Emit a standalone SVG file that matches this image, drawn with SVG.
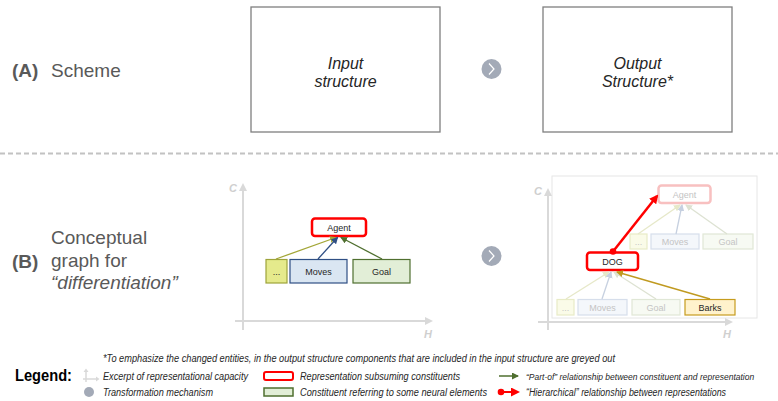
<svg xmlns="http://www.w3.org/2000/svg" width="778" height="401" viewBox="0 0 778 401">
<style>
.hd{font-family:"Liberation Sans",Arial,sans-serif;font-size:19px;fill:#595959}
.hb{font-weight:bold}
.bx{fill:#fff;stroke:#7f7f7f;stroke-width:1.3}
.bt{font-family:"Liberation Sans",Arial,sans-serif;font-size:16px;font-style:italic;fill:#262626;text-anchor:middle}
.nl{font-family:"Liberation Sans",Arial,sans-serif;font-size:9px;fill:#262626;text-anchor:middle}
.fl{fill:#c4c4c4}
.ax{stroke:#d9d9d9;stroke-width:2;fill:none}
.axl{font-family:"Liberation Sans",Arial,sans-serif;font-size:11px;font-weight:bold;font-style:italic;fill:#cfcfcf}
.lg{font-family:"Liberation Sans",Arial,sans-serif;font-size:10px;font-style:italic;fill:#262626}
.rep{fill:#fff;stroke:#ff0000;stroke-width:2.5}
.dots{fill:#e5ea8c;stroke:#9da33a;stroke-width:1.2}
.mov{fill:#dae6f2;stroke:#2f4f84;stroke-width:1.2}
.goal{fill:#e2eed7;stroke:#4f6f2f;stroke-width:1.2}
.fdots{fill:#fafbe8;stroke:#e8ebc6;stroke-width:1.2}
.fmov{fill:#f4f7fb;stroke:#d6deeb;stroke-width:1.2}
.fgoal{fill:#f7faf3;stroke:#e0e7d6;stroke-width:1.2}
.frep{fill:#fff;stroke:#f8c0c0;stroke-width:2.5}
.bark{fill:#fff2cc;stroke:#c69c1e;stroke-width:1.2}
</style>
<defs>
<marker id="aAx" markerWidth="8" markerHeight="8" refX="6" refY="4" orient="auto" markerUnits="userSpaceOnUse"><path d="M0,0 L8,4 L0,8 Z" fill="#d9d9d9"/></marker>
<marker id="aOl" markerWidth="7" markerHeight="7" refX="6" refY="3.5" orient="auto" markerUnits="userSpaceOnUse"><path d="M0,0 L7,3.5 L0,7 Z" fill="#a3a637"/></marker>
<marker id="aBl" markerWidth="7" markerHeight="7" refX="6" refY="3.5" orient="auto" markerUnits="userSpaceOnUse"><path d="M0,0 L7,3.5 L0,7 Z" fill="#2f4f84"/></marker>
<marker id="aGr" markerWidth="7" markerHeight="7" refX="6" refY="3.5" orient="auto" markerUnits="userSpaceOnUse"><path d="M0,0 L7,3.5 L0,7 Z" fill="#4f6f2f"/></marker>
<marker id="aGo" markerWidth="7" markerHeight="7" refX="6" refY="3.5" orient="auto" markerUnits="userSpaceOnUse"><path d="M0,0 L7,3.5 L0,7 Z" fill="#c09a20"/></marker>
<marker id="aFO" markerWidth="7" markerHeight="7" refX="6" refY="3.5" orient="auto" markerUnits="userSpaceOnUse"><path d="M0,0 L7,3.5 L0,7 Z" fill="#e6e8c8"/></marker>
<marker id="aFB" markerWidth="7" markerHeight="7" refX="6" refY="3.5" orient="auto" markerUnits="userSpaceOnUse"><path d="M0,0 L7,3.5 L0,7 Z" fill="#c6d0e0"/></marker>
<marker id="aFG" markerWidth="7" markerHeight="7" refX="6" refY="3.5" orient="auto" markerUnits="userSpaceOnUse"><path d="M0,0 L7,3.5 L0,7 Z" fill="#dde2d2"/></marker>
<marker id="aRd" markerWidth="9" markerHeight="9" refX="7" refY="4.5" orient="auto" markerUnits="userSpaceOnUse"><path d="M0,0 L9,4.5 L0,9 Z" fill="#ff0000"/></marker>
<marker id="dRd" markerWidth="8" markerHeight="8" refX="4" refY="4" markerUnits="userSpaceOnUse"><circle cx="4" cy="4" r="3.3" fill="#ff0000"/></marker>
</defs>

<rect width="778" height="401" fill="#fff"/>

<!-- Section A -->
<g id="labelA">
<text class="hd hb" x="12" y="77">(A)</text>
<text class="hd" x="51" y="77">Scheme</text>
</g>
<g id="input-structure">
<rect class="bx" x="251" y="7" width="189" height="125"/>
<text class="bt" x="345.5" y="69">Input</text>
<text class="bt" x="345.5" y="87">structure</text>
</g>
<g id="transform-A">
<circle cx="491.5" cy="69" r="10" fill="#a3aab7"/>
<path d="M489,63.5 L494,69 L489,74.5" fill="none" stroke="#fff" stroke-width="1.2"/>
</g>
<g id="output-structure">
<rect class="bx" x="543" y="7" width="189" height="125"/>
<text class="bt" x="637.5" y="69">Output</text>
<text class="bt" x="637.5" y="87">Structure*</text>
</g>

<line x1="0" y1="153.5" x2="778" y2="153.5" stroke="#c2c2c2" stroke-width="2" stroke-dasharray="5 3"/>

<!-- Section B -->
<g id="labelB">
<text class="hd hb" x="12" y="268">(B)</text>
<text class="hd" x="51" y="244">Conceptual</text>
<text class="hd" x="51" y="267">graph for</text>
<text class="hd" x="51" y="289" font-style="italic">“differentiation”</text>
</g>

<!-- left chart -->
<g id="axes-left">
<line class="ax" x1="243" y1="330" x2="243" y2="185" marker-end="url(#aAx)"/>
<line class="ax" x1="235" y1="321" x2="431" y2="321" marker-end="url(#aAx)"/>
<text class="axl" x="229" y="192">C</text>
<text class="axl" x="424" y="338">H</text>
</g>
<g id="agent-L">
<rect class="rep" x="312" y="218.5" width="54" height="17.5" rx="3"/>
<text class="nl" x="339" y="230.5">Agent</text>
</g>
<g id="dots-L">
<rect class="dots" x="266" y="259.5" width="21" height="23.5"/>
<text class="nl" x="276.5" y="274.5">...</text>
</g>
<g id="moves-L">
<rect class="mov" x="290" y="259.5" width="57" height="23.5"/>
<text class="nl" x="318.5" y="274.5">Moves</text>
</g>
<g id="goal-L">
<rect class="goal" x="353" y="259.5" width="57" height="23.5"/>
<text class="nl" x="381.5" y="274.5">Goal</text>
</g>
<g id="connectors-left">
<line x1="276" y1="259" x2="336" y2="237.5" stroke="#a3a637" stroke-width="1.3" marker-end="url(#aOl)"/>
<line x1="318" y1="259" x2="337.5" y2="237.5" stroke="#2f4f84" stroke-width="1.3" marker-end="url(#aBl)"/>
<line x1="382" y1="259" x2="341" y2="237.5" stroke="#4f6f2f" stroke-width="1.3" marker-end="url(#aGr)"/>
</g>

<g id="transform-B">
<circle cx="491.5" cy="256" r="10" fill="#a3aab7"/>
<path d="M489,250.5 L494,256 L489,261.5" fill="none" stroke="#fff" stroke-width="1.2"/>
</g>

<!-- right chart -->
<rect x="552" y="176" width="205" height="142" fill="#fff" stroke="#e6e6e6" stroke-width="1"/>
<g id="axes-right">
<line class="ax" x1="548" y1="330" x2="548" y2="190" marker-end="url(#aAx)"/>
<line class="ax" x1="538" y1="322" x2="731" y2="322" marker-end="url(#aAx)"/>
<text class="axl" x="534" y="195">C</text>
<text class="axl" x="723" y="338">H</text>
</g>
<g id="agent-R">
<rect class="frep" x="658.5" y="185.5" width="52" height="17.5" rx="3"/>
<text class="nl fl" x="684.5" y="197.5">Agent</text>
</g>
<g id="dots-R1">
<rect class="fdots" x="630" y="234" width="17" height="15"/>
<text class="nl fl" x="638.5" y="245">...</text>
</g>
<g id="moves-R1">
<rect class="fmov" x="651" y="234" width="48" height="15"/>
<text class="nl fl" x="675" y="245">Moves</text>
</g>
<g id="goal-R1">
<rect class="fgoal" x="703" y="234" width="50" height="15"/>
<text class="nl fl" x="728" y="245">Goal</text>
</g>
<g id="dog">
<rect class="rep" x="587" y="252.5" width="51" height="17.5" rx="3"/>
<text class="nl" x="612.5" y="264.5">DOG</text>
</g>
<g id="dots-R2">
<rect class="fdots" x="557" y="299.5" width="17" height="15.5"/>
<text class="nl fl" x="565.5" y="310.5">...</text>
</g>
<g id="moves-R2">
<rect class="fmov" x="578" y="299.5" width="49" height="15.5"/>
<text class="nl fl" x="602.5" y="310.5">Moves</text>
</g>
<g id="goal-R2">
<rect class="fgoal" x="632" y="299.5" width="48" height="15.5"/>
<text class="nl fl" x="656" y="310.5">Goal</text>
</g>
<g id="barks">
<rect class="bark" x="685" y="299.5" width="50" height="15.5"/>
<text class="nl" x="710" y="310.5">Barks</text>
</g>
<g id="connectors-right">
<line x1="638" y1="234" x2="680" y2="205" stroke="#e6e8c8" stroke-width="1.3" marker-end="url(#aFO)"/>
<line x1="676" y1="234" x2="682" y2="205" stroke="#c6d0e0" stroke-width="1.3" marker-end="url(#aFB)"/>
<line x1="727" y1="234" x2="686" y2="205" stroke="#dde2d2" stroke-width="1.3" marker-end="url(#aFG)"/>
<line x1="566" y1="299" x2="609" y2="272" stroke="#e6e8c8" stroke-width="1.3" marker-end="url(#aFO)"/>
<line x1="602" y1="299" x2="611" y2="272" stroke="#c6d0e0" stroke-width="1.3" marker-end="url(#aFB)"/>
<line x1="656" y1="299" x2="614" y2="272" stroke="#dde2d2" stroke-width="1.3" marker-end="url(#aFG)"/>
<line x1="710" y1="299" x2="617" y2="272" stroke="#c09a20" stroke-width="1.4" marker-end="url(#aGo)"/>
<line x1="613" y1="251.5" x2="657" y2="196" stroke="#ff0000" stroke-width="2.5" marker-start="url(#dRd)" marker-end="url(#aRd)"/>
</g>

<!-- Legend -->
<g id="legend">
<text x="15" y="381" font-family="Liberation Sans,Arial,sans-serif" font-size="16" font-weight="bold" fill="#000" textLength="57" lengthAdjust="spacingAndGlyphs">Legend:</text>
<text class="lg" x="103" y="362" textLength="512" lengthAdjust="spacingAndGlyphs">*To emphasize the changed entities, in the output structure components that are included in the input structure are greyed out</text>
<g stroke="#d9d9d9" stroke-width="1.5" fill="none">
<line x1="86" y1="382" x2="86" y2="371"/>
<line x1="83" y1="379" x2="97" y2="379"/>
</g>
<path d="M83.5,372 L86,368.5 L88.5,372 Z" fill="#d9d9d9"/>
<path d="M96,376.5 L99.5,379 L96,381.5 Z" fill="#d9d9d9"/>
<text class="lg" x="103" y="379.5" textLength="145" lengthAdjust="spacingAndGlyphs">Excerpt of representational capacity</text>
<circle cx="89" cy="392" r="5" fill="#a3aab7"/>
<text class="lg" x="103" y="396" textLength="110" lengthAdjust="spacingAndGlyphs">Transformation mechanism</text>
<rect x="264" y="372" width="29" height="8" rx="2" fill="#fff" stroke="#ff0000" stroke-width="2"/>
<text class="lg" x="300" y="379.5" textLength="160" lengthAdjust="spacingAndGlyphs">Representation subsuming constituents</text>
<rect x="264" y="388" width="29" height="8" fill="#e2eed7" stroke="#4f6f2f" stroke-width="1.5"/>
<text class="lg" x="300" y="396" textLength="187" lengthAdjust="spacingAndGlyphs">Constituent referring to some neural elements</text>
<line x1="499" y1="376" x2="518" y2="376" stroke="#4f6f2f" stroke-width="1.5" marker-end="url(#aGr)"/>
<text class="lg" x="526" y="379.5" style="font-size:8.5px">“Part-of” relationship between constituent and representation</text>
<line x1="501" y1="392" x2="518" y2="392" stroke="#ff0000" stroke-width="2" marker-start="url(#dRd)" marker-end="url(#aRd)"/>
<text class="lg" x="526" y="396" textLength="200" lengthAdjust="spacingAndGlyphs">“Hierarchical” relationship between representations</text>
</g>
</svg>
